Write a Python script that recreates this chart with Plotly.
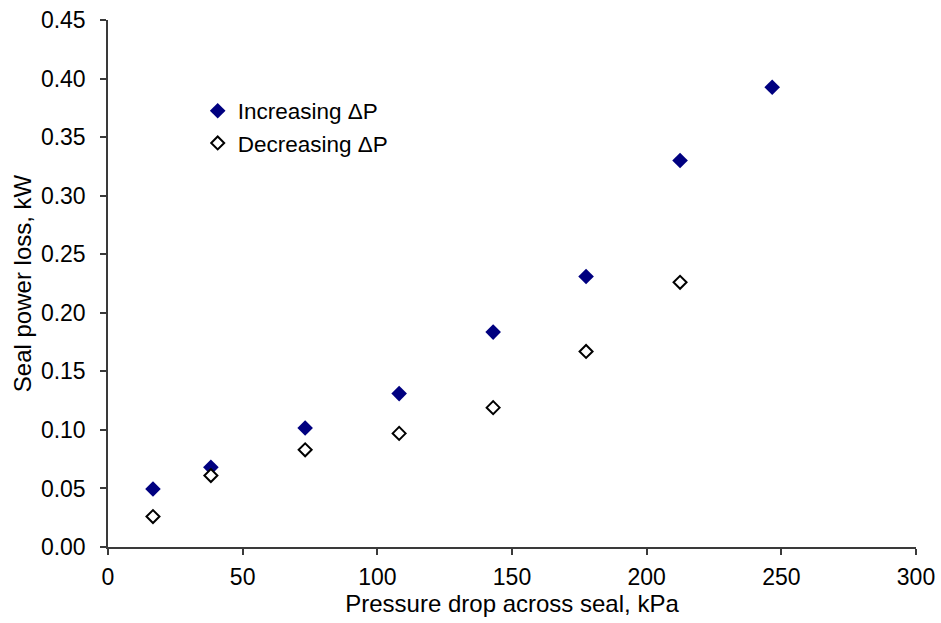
import plotly.graph_objects as go

pressure_inc = [16.7, 38.2, 73.2, 108.1, 143.0, 177.5, 212.4, 246.6]
power_inc = [0.0495, 0.068, 0.1016, 0.131, 0.1835, 0.231, 0.330, 0.3926]
pressure_dec = [16.7, 38.2, 73.2, 108.1, 143.0, 177.5, 212.4]
power_dec = [0.026, 0.061, 0.083, 0.097, 0.119, 0.167, 0.226]

x_ticks = [0, 50, 100, 150, 200, 250, 300]
y_ticks = [0.00, 0.05, 0.10, 0.15, 0.20, 0.25, 0.30, 0.35, 0.40, 0.45]

FONT = "Liberation Sans, Arial, sans-serif"

fig = go.Figure()
fig.add_trace(go.Scatter(
    x=pressure_inc, y=power_inc, mode="markers", name="Increasing ΔP",
    marker=dict(symbol="diamond", size=12, color="#000080", line=dict(width=0)),
))
fig.add_trace(go.Scatter(
    x=pressure_dec, y=power_dec, mode="markers", name="Decreasing ΔP",
    marker=dict(symbol="diamond", size=10, color="white", line=dict(width=2, color="black")),
))

axis_common = dict(
    showgrid=False, zeroline=False, showline=True, linecolor="#3a3a3a", linewidth=1.5,
    ticks="outside", ticklen=6, tickcolor="#3a3a3a", tickwidth=1.5,
    tickfont=dict(family=FONT, size=23, color="black"),
    automargin=False,
)

fig.update_layout(
    width=941, height=623,
    margin=dict(l=108, r=25, t=20, b=76),
    paper_bgcolor="white", plot_bgcolor="white",
    font=dict(family=FONT, color="black"),
    showlegend=True,
    legend=dict(x=0.111, y=0.868, xanchor="left", yanchor="top",
                font=dict(family=FONT, size=22.5, color="black"),
                bgcolor="rgba(0,0,0,0)", tracegroupgap=0),
    xaxis=dict(range=[0, 300], tickvals=x_ticks, ticktext=[str(v) for v in x_ticks],
               ticklabelstandoff=3,
               title=dict(text="Pressure drop across seal, kPa", font=dict(family=FONT, size=24), standoff=0),
               **axis_common),
    yaxis=dict(range=[0, 0.45], tickvals=y_ticks, ticktext=[f"{v:.2f}" for v in y_ticks],
               ticklabelstandoff=10,
               title=dict(text="Seal power loss, kW", font=dict(family=FONT, size=24), standoff=2),
               **axis_common),
)

fig.write_html("out.html")
